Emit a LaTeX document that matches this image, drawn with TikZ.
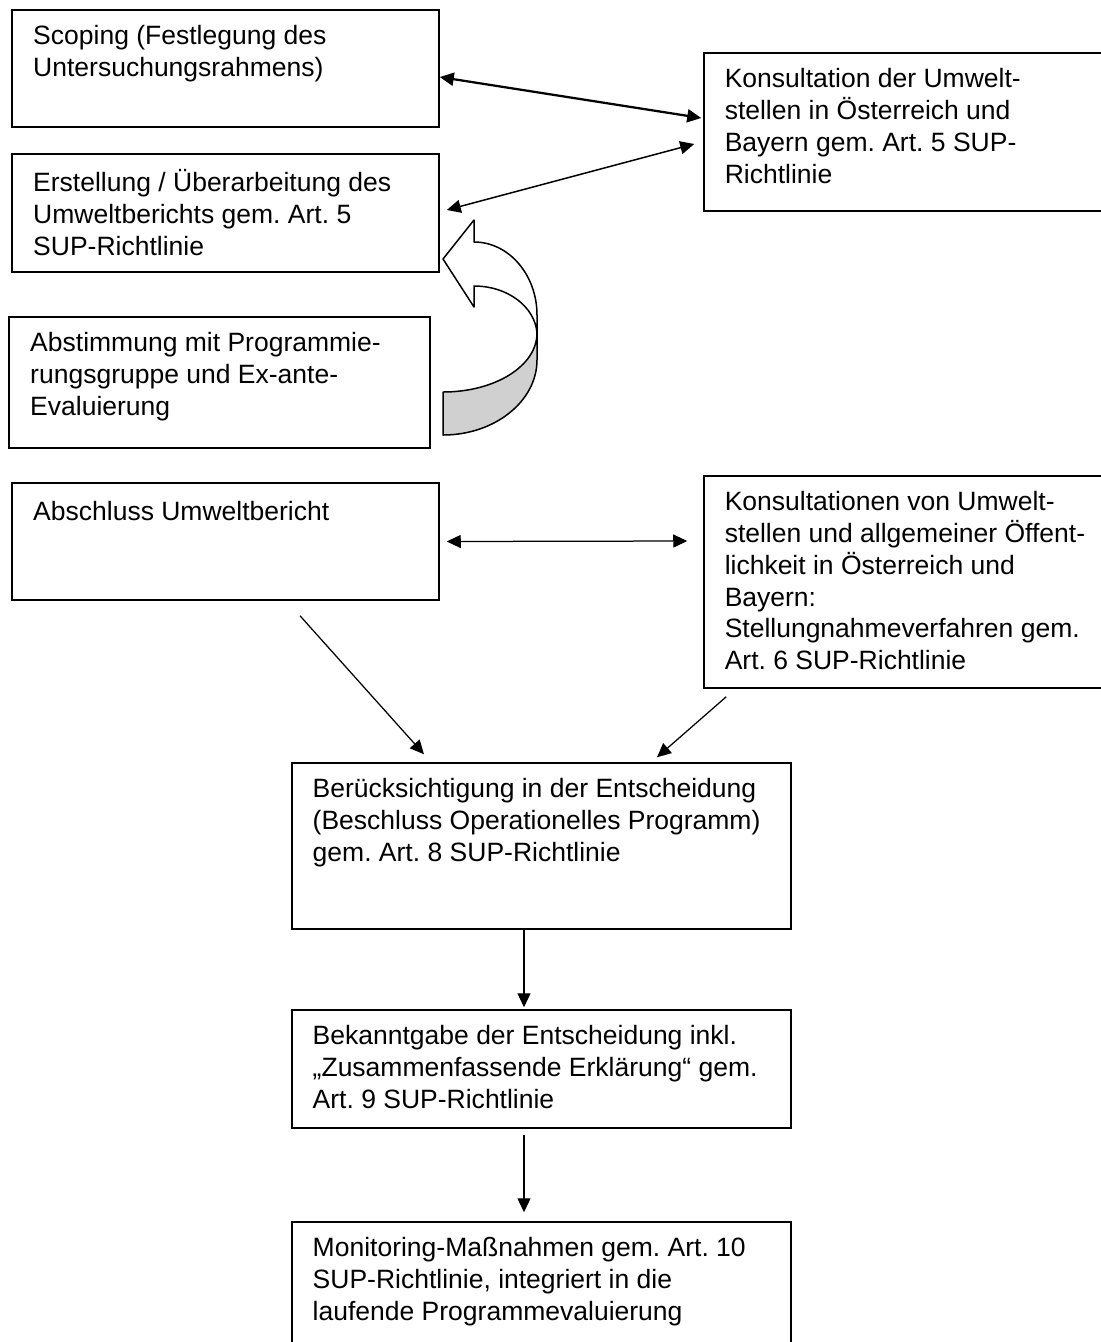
\documentclass[tikz,border=0pt]{standalone}
\usepackage{fontspec}
\setmainfont{Liberation Sans}
\usetikzlibrary{arrows.meta}
\definecolor{bandgray}{RGB}{208,208,208}
\frenchspacing

\begin{document}
\begin{tikzpicture}[
            x=0.4pt, y=-0.4pt,
            box/.style={draw, line width=0.6pt, inner sep=0pt},
            boxtext/.style={anchor=north west, inner sep=0pt, align=left,
                font=\fontsize{10.6}{12.7}\selectfont, execute at begin node=\strut},
            flow/.style={draw, line width=0.5pt, -{Triangle[length=5.6pt, width=5.2pt]}},
            biflow/.style={draw, line width=0.5pt,
                {Triangle[length=5.6pt, width=5.2pt]}-{Triangle[length=5.6pt, width=5.2pt]}},
            uturn/.style={draw, line width=0.6pt, line join=round}
        ]
        \useasboundingbox (0,0) rectangle (1101,1342);
        \clip (0,0) rectangle (1101,1342);

        % Left column - preparation
        \node[box, minimum width=170.8pt, minimum height=46.8pt] (scoping) at (225.5,68.5) {};
        \node[boxtext] (scoping_text) at ([shift={(8.6pt,-6.4pt)}]scoping.north west)
            {Scoping (Festlegung des\\Untersuchungsrahmens)};
        \node[box, minimum width=170.8pt, minimum height=47.2pt] (erstellung) at (225.5,213) {};
        \node[boxtext] (erstellung_text) at ([shift={(8.6pt,-6.4pt)}]erstellung.north west)
            {Erstellung / Überarbeitung des\\Umweltberichts gem. Art. 5\\SUP-Richtlinie};
        \node[box, minimum width=168.4pt, minimum height=52.4pt] (abstimmung) at (219.5,382.5) {};
        \node[boxtext] (abstimmung_text) at ([shift={(8.6pt,-6.4pt)}]abstimmung.north west)
            {Abstimmung mit Programmie-\\rungsgruppe und Ex-ante-\\Evaluierung};
        \node[box, minimum width=170.8pt, minimum height=46.8pt] (abschluss) at (225.5,541.5) {};
        \node[boxtext] (abschluss_text) at ([shift={(8.6pt,-6.4pt)}]abschluss.north west)
            {Abschluss Umweltbericht};

        % Right column - consultations
        \node[box, minimum width=163.2pt, minimum height=63.2pt] (konsult_a) at (908,132) {};
        \node[boxtext] (konsult_a_text) at ([shift={(8.4pt,-6.4pt)}]konsult_a.north west)
            {Konsultation der Umwelt-\\stellen in Österreich und\\Bayern gem. Art. 5 SUP-\\Richtlinie};
        \node[box, minimum width=163.2pt, minimum height=84.8pt] (konsult_b) at (908,582) {};
        \node[boxtext] (konsult_b_text) at ([shift={(8.4pt,-6.4pt)}]konsult_b.north west)
            {Konsultationen von Umwelt-\\stellen und allgemeiner Öffent-\\lichkeit in Österreich und\\Bayern:\\Stellungnahmeverfahren gem.\\Art. 6 SUP-Richtlinie};

        % Middle column - decision
        \node[box, minimum width=199.6pt, minimum height=66.4pt] (beruecksichtigung) at (541.5,846) {};
        \node[boxtext] (beruecksichtigung_text) at ([shift={(8.4pt,-6.4pt)}]beruecksichtigung.north west)
            {Berücksichtigung in der Entscheidung\\(Beschluss Operationelles Programm)\\gem. Art. 8 SUP-Richtlinie};
        \node[box, minimum width=199.6pt, minimum height=47.2pt] (bekanntgabe) at (541.5,1069) {};
        \node[boxtext] (bekanntgabe_text) at ([shift={(8.4pt,-6.4pt)}]bekanntgabe.north west)
            {Bekanntgabe der Entscheidung inkl.\\„Zusammenfassende Erklärung“ gem.\\Art. 9 SUP-Richtlinie};
        \node[box, minimum width=199.6pt, minimum height=55.2pt] (monitoring) at (541.5,1291) {};
        \node[boxtext] (monitoring_text) at ([shift={(8.4pt,-6.4pt)}]monitoring.north west)
            {Monitoring-Maßnahmen gem. Art. 10\\SUP-Richtlinie, integriert in die\\laufende Programmevaluierung};

        % U-turn arrow between Abstimmung and Erstellung
        \filldraw[uturn, fill=bandgray] (537,333) .. controls (537,366) and (495,392) .. (443,392)
            -- (443,435) .. controls (495,435) and (537,401) .. (537,360) -- cycle;
        \filldraw[uturn, fill=white] (474,242) -- (474,220) -- (443,259) -- (474,307) -- (474,286)
            .. controls (508,286) and (535,307) .. (537,333) -- (537,315)
            .. controls (537,275) and (509,242) .. (474,242) -- cycle;

        \draw[biflow, line width=0.9pt] ([yshift=-3.4pt]scoping.east) -- ([shift={(-0.8pt,5.6pt)}]konsult_a.west);
        \draw[biflow, line width=0.6pt] ([shift={(2.8pt,1.2pt)}]erstellung.east) -- ([shift={(-3.6pt,-4.8pt)}]konsult_a.west);
        \draw[biflow] ([xshift=2.8pt]abschluss.east) -- ([shift={(-6.4pt,16.4pt)}]konsult_b.west);

        \draw[flow] ([shift={(29.8pt,-6pt)}]abschluss.south) -- ([shift={(-47pt,3.2pt)}]beruecksichtigung.north);
        \draw[flow] ([shift={(9.2pt,-3.2pt)}]konsult_b.south west) -- ([shift={(46.2pt,2pt)}]beruecksichtigung.north);

        \draw[flow] ([xshift=-7pt]beruecksichtigung.south) -- ([shift={(-7pt,0.8pt)}]bekanntgabe.north);
        \draw[flow] ([shift={(-7pt,-2.4pt)}]bekanntgabe.south) -- ([shift={(-7pt,3.6pt)}]monitoring.north);

    \end{tikzpicture}
\end{document}
